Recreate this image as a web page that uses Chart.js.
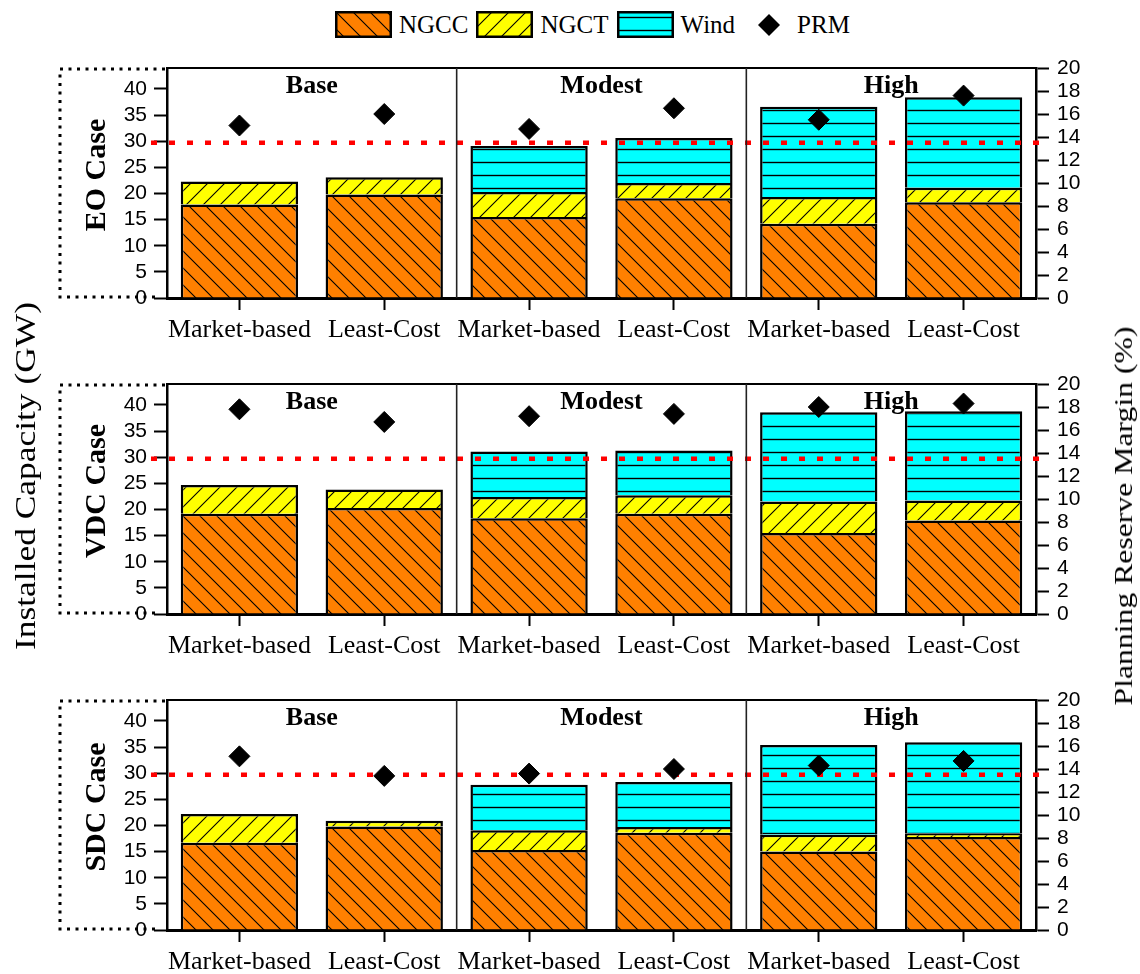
<!DOCTYPE html>
<html>
<head>
<meta charset="utf-8">
<script src="https://cdn.jsdelivr.net/npm/chart.js@4.4.1/dist/chart.umd.min.js"></script>
<style>
    body { margin: 0; background: #fff; }
    #page { position: relative; width: 1140px; height: 974px; overflow: hidden; background: #fff; }
    #page canvas.row { position: absolute; left: 0; }
    .axis-title { position: absolute; white-space: nowrap; font-family: 'Liberation Serif', 'Times New Roman', serif; color: #000; }
    #legend { position: absolute; top: 11px; left: 335px; display: flex; align-items: center; font: 25px 'Liberation Serif', serif; line-height: 27px; }
    #legend span { margin-left: 7px; margin-right: 8px; }
</style>
</head>
<body>
<div id="page">
    <div id="legend"></div>
    <canvas class="row" id="eoChart" width="1140" height="342" style="top:0px"></canvas>
    <canvas class="row" id="vdcChart" width="1140" height="342" style="top:316px"></canvas>
    <canvas class="row" id="sdcChart" width="1140" height="342" style="top:632px"></canvas>
    <div class="axis-title" style="left:25px; top:476px; font-size:30px; transform: translate(-50%, -50%) rotate(-90deg) scaleX(1.18);">Installed Capacity (GW)</div>
    <div class="axis-title" style="left:1124px; top:516px; font-size:26px; transform: translate(-50%, -50%) rotate(-90deg) scaleX(1.22);">Planning Reserve Margin (%)</div>
</div>
<script>
const categories = ['Market-based', 'Least-Cost', 'Market-based', 'Least-Cost', 'Market-based', 'Least-Cost'];
const scenarios = ['Base', 'Modest', 'High'];
const seriesNames = ['NGCC', 'NGCT', 'Wind', 'PRM'];

// stacked segment sizes (GW)
const eoNgcc = [17.9, 19.8, 15.5, 19.1, 14.2, 18.3];
const eoNgct = [4.4, 3.3, 4.8, 2.9, 5.1, 2.8];
const eoWind = [null, null, 8.8, 8.6, 17.3, 17.3];
const eoPrm = [15.0, 16.0, 14.7, 16.5, 15.5, 17.6];

const vdcNgcc = [19.2, 20.3, 18.3, 19.2, 15.5, 17.9];
const vdcNgct = [5.5, 3.5, 4.1, 3.5, 6.0, 3.8];
const vdcWind = [null, null, 8.7, 8.6, 17.1, 17.1];
const vdcPrm = [17.8, 16.7, 17.2, 17.4, 18.0, 18.3];

const sdcNgcc = [16.7, 19.8, 15.3, 18.6, 15.0, 17.8];
const sdcNgct = [5.5, 1.1, 3.8, 1.1, 3.2, 0.6];
const sdcWind = [null, null, 8.7, 8.6, 17.2, 17.5];
const sdcPrm = [15.1, 13.4, 13.6, 14.0, 14.3, 14.7];

const prmTarget = 13.5;       // required reserve margin (%)
const capacityMax = 44;
const capacityStep = 5;
const prmMax = 20;
const prmStep = 2;

const fills = { NGCC: '#ff8000', NGCT: '#ffff00', Wind: '#00ffff' };

function makePattern(kind) {
    const c = document.createElement('canvas');
    const size = kind === 'Wind' ? 13 : 17;
    c.width = size; c.height = size;
    const g = c.getContext('2d');
    g.fillStyle = fills[kind];
    g.fillRect(0, 0, size, size);
    g.strokeStyle = '#000';
    g.lineWidth = kind === 'Wind' ? 1.4 : 1.1;
    g.beginPath();
    if (kind === 'NGCC') {
        g.moveTo(0, 0); g.lineTo(size, size);
        g.moveTo(-2, size - 2); g.lineTo(2, size + 2);
        g.moveTo(size - 2, -2); g.lineTo(size + 2, 2);
    } else if (kind === 'NGCT') {
        g.moveTo(0, size); g.lineTo(size, 0);
        g.moveTo(-2, 2); g.lineTo(2, -2);
        g.moveTo(size - 2, size + 2); g.lineTo(size + 2, size - 2);
    } else {
        g.moveTo(0, 6.5); g.lineTo(size, 6.5);
    }
    g.stroke();
    return g.createPattern(c, 'repeat');
}

const patterns = {
    NGCC: makePattern('NGCC'),
    NGCT: makePattern('NGCT'),
    Wind: makePattern('Wind')
};

function buildLegend() {
    const legend = document.getElementById('legend');
    seriesNames.forEach(name => {
        const sw = document.createElement('canvas');
        if (name === 'PRM') {
            sw.width = 24; sw.height = 24;
            sw.style.marginLeft = '14px';
            const g = sw.getContext('2d');
            g.fillStyle = '#000';
            g.beginPath();
            g.moveTo(12, 1); g.lineTo(23, 12); g.lineTo(12, 23); g.lineTo(1, 12);
            g.closePath();
            g.fill();
        } else {
            sw.width = 57; sw.height = 27;
            const g = sw.getContext('2d');
            g.fillStyle = patterns[name];
            g.fillRect(0, 0, 57, 27);
            g.strokeStyle = '#000';
            g.lineWidth = 2.5;
            g.strokeRect(1.25, 1.25, 54.5, 24.5);
        }
        const label = document.createElement('span');
        label.textContent = name;
        if (name === 'PRM') label.style.marginLeft = '16px';
        legend.appendChild(sw);
        legend.appendChild(label);
    });
}

const panelDecor = {
    id: 'panelDecor',
    beforeDatasetDraw(chart, args) {
        if (args.index !== 0) return; // draw the target line just before the PRM diamonds
        const { ctx, chartArea } = chart;
        const y = chart.scales.y1.getPixelForValue(prmTarget);
        ctx.save();
        ctx.strokeStyle = '#ff0000';
        ctx.lineWidth = 4.5;
        ctx.setLineDash([6, 12]);
        ctx.beginPath();
        ctx.moveTo(chartArea.left - 16, y);
        ctx.lineTo(chartArea.right + 14, y);
        ctx.stroke();
        ctx.restore();
    },
    afterDraw(chart, args, opts) {
        const { ctx, chartArea } = chart;
        const x = chart.scales.x;
        const { left, right, top, bottom } = chartArea;
        ctx.save();

        // top frame line
        ctx.strokeStyle = '#000';
        ctx.lineWidth = 2;
        ctx.beginPath();
        ctx.moveTo(left, top); ctx.lineTo(right, top);
        ctx.stroke();

        // separators between scenarios
        ctx.lineWidth = 1.6;
        ctx.strokeStyle = '#222';
        [1, 3].forEach(i => {
            const sx = (x.getPixelForValue(i) + x.getPixelForValue(i + 1)) / 2;
            ctx.beginPath();
            ctx.moveTo(sx, top); ctx.lineTo(sx, bottom);
            ctx.stroke();
        });

        // scenario titles
        ctx.fillStyle = '#000';
        ctx.font = 'bold 26px "Liberation Serif"';
        ctx.textAlign = 'center';
        ctx.textBaseline = 'alphabetic';
        scenarios.forEach((name, i) => {
            const cx = (x.getPixelForValue(2 * i) + x.getPixelForValue(2 * i + 1)) / 2;
            ctx.fillText(name, cx, top + 25);
        });

        // dotted box behind the left axis
        ctx.strokeStyle = '#000';
        ctx.lineWidth = 3;
        ctx.setLineDash([3, 5.5]);
        ctx.beginPath();
        ctx.moveTo(left - 2, top + 1);
        ctx.lineTo(left - 107, top + 1);
        ctx.lineTo(left - 107, bottom - 1);
        ctx.lineTo(left - 12, bottom - 1);
        ctx.stroke();
        ctx.setLineDash([]);

        // case label
        ctx.translate(97, (top + bottom) / 2 - 8);
        ctx.rotate(-Math.PI / 2);
        ctx.font = 'bold 30px "Liberation Serif"';
        ctx.textBaseline = 'middle';
        ctx.fillText(opts.caseName, 0, 0);
        ctx.restore();
    }
};

const tickFont = { family: 'Liberation Sans', size: 21 };

function buildRow(canvasId, caseName, ngcc, ngct, wind, prm) {
    const barStyle = {
        borderColor: '#000',
        borderWidth: 2.5,
        borderSkipped: 'start',
        barPercentage: 0.81,
        categoryPercentage: 1,
        stack: 'capacity',
        yAxisID: 'y'
    };
    const ctx = document.getElementById(canvasId).getContext('2d');
    return new Chart(ctx, {
        type: 'bar',
        data: {
            labels: categories,
            datasets: [
                {
                    type: 'line',
                    label: 'PRM',
                    data: prm,
                    yAxisID: 'y1',
                    showLine: false,
                    pointStyle: 'rectRot',
                    pointRadius: 10.5,
                    pointBackgroundColor: '#000',
                    pointBorderColor: '#000',
                    pointBorderWidth: 1
                },
                { ...barStyle, label: 'NGCC', data: ngcc, backgroundColor: patterns.NGCC },
                { ...barStyle, label: 'NGCT', data: ngct, backgroundColor: patterns.NGCT },
                { ...barStyle, label: 'Wind', data: wind, backgroundColor: patterns.Wind }
            ]
        },
        options: {
            responsive: false,
            animation: false,
            layout: { padding: { top: 68, left: 0, right: 0, bottom: 0 } },
            plugins: {
                legend: { display: false },
                tooltip: { enabled: false },
                panelDecor: { caseName }
            },
            scales: {
                x: {
                    stacked: true,
                    offset: true,
                    grid: { offset: false, drawOnChartArea: false, drawTicks: true, tickLength: 12, tickWidth: 2, tickColor: '#000' },
                    border: { display: true, color: '#000', width: 3 },
                    ticks: {
                        color: '#000',
                        font: { family: 'Liberation Serif', size: 26 },
                        padding: 5,
                        autoSkip: false,
                        maxRotation: 0,
                        minRotation: 0
                    },
                    afterFit(scale) { scale.height = 44; }
                },
                y: {
                    stacked: true,
                    min: 0,
                    max: capacityMax,
                    grid: { drawOnChartArea: false, drawTicks: true, tickLength: 13, tickWidth: 2, tickColor: '#000' },
                    border: { display: true, color: '#000', width: 2.5 },
                    ticks: { stepSize: capacityStep, includeBounds: false, autoSkip: false, color: '#000', font: tickFont, padding: 7 },
                    afterFit(scale) { scale.width = 167; }
                },
                y1: {
                    position: 'right',
                    stacked: false,
                    min: 0,
                    max: prmMax,
                    grid: { drawOnChartArea: false, drawTicks: true, tickLength: 13, tickWidth: 2, tickColor: '#000' },
                    border: { display: true, color: '#000', width: 2.5 },
                    ticks: { stepSize: prmStep, autoSkip: false, color: '#000', font: tickFont, padding: 8 },
                    afterFit(scale) { scale.width = 104; }
                }
            }
        },
        plugins: [panelDecor]
    });
}

buildLegend();
buildRow('eoChart', 'EO Case', eoNgcc, eoNgct, eoWind, eoPrm);
buildRow('vdcChart', 'VDC Case', vdcNgcc, vdcNgct, vdcWind, vdcPrm);
buildRow('sdcChart', 'SDC Case', sdcNgcc, sdcNgct, sdcWind, sdcPrm);
</script>
</body>
</html>
